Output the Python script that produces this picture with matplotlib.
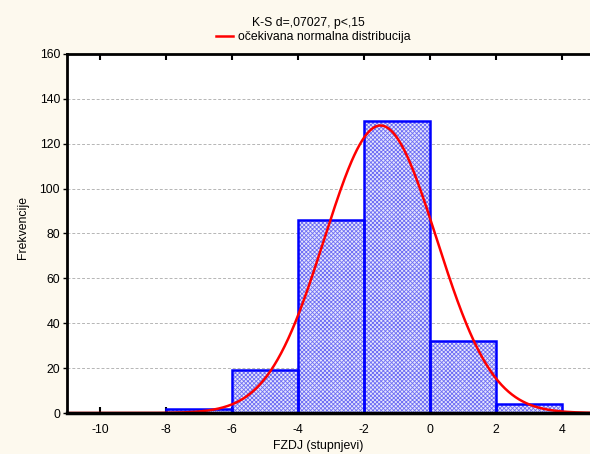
import numpy as np
import matplotlib
matplotlib.use("Agg")
import matplotlib.pyplot as plt

plt.rcParams['font.family'] = ['Liberation Sans', 'DejaVu Sans']
plt.rcParams['hatch.linewidth'] = 0.6

# Histogram of FZDJ with fitted normal curve
bin_edges = [-8, -6, -4, -2, 0, 2, 4]
counts = [2, 19, 86, 130, 32, 4]
fit_mean = -1.5
fit_sd = 1.70
n_total = sum(counts)
bin_width = 2

x_ticks = [-10, -8, -6, -4, -2, 0, 2, 4]
y_ticks = [0, 20, 40, 60, 80, 100, 120, 140, 160]

bg = '#fdf9ee'
fs = 8.8
fig = plt.figure(figsize=(5.90, 4.54), dpi=100, facecolor=bg)
ax = fig.add_axes([67/590, 1 - 413/454, 1 - 67/590, (413 - 54)/454])
ax.set_facecolor('white')

lefts = np.array(bin_edges[:-1])
# hatched fill
ax.bar(lefts, counts, width=bin_width, align='edge', facecolor='#e6e6fd',
       edgecolor='#6e6ef4', hatch='xxxxxxxx', linewidth=0, zorder=2)
# outlines
ax.bar(lefts, counts, width=bin_width, align='edge', fill=False,
       edgecolor='#0000ff', linewidth=1.8, zorder=3)

xs = np.linspace(-11, 5, 600)
pdf = np.exp(-0.5 * ((xs - fit_mean) / fit_sd) ** 2) / (fit_sd * np.sqrt(2 * np.pi))
line, = ax.plot(xs, n_total * bin_width * pdf, color='#ff0000', linewidth=1.8, zorder=4)

ax.set_xlim(-11, -11 + 523 / 33)
ax.set_ylim(0, 160)
ax.set_xticks(x_ticks)
ax.set_yticks(y_ticks)
ax.set_xticklabels([str(v) for v in x_ticks])
ax.grid(axis='y', linestyle=(0, (3, 2)), color='#b5b5b5', linewidth=0.7, zorder=0)

for s in ['left', 'bottom', 'top']:
    ax.spines[s].set_linewidth(2)
    ax.spines[s].set_zorder(5)
ax.spines['bottom'].set_linewidth(2.5)
ax.spines['right'].set_visible(False)
ax.tick_params(axis='x', direction='in', length=4, width=1.5, top=True,
               labelsize=fs, pad=8)
ax.tick_params(axis='y', direction='out', length=3, width=1, labelsize=fs, pad=2)

ax.set_xlabel('FZDJ (stupnjevi)', fontsize=fs)
ax.xaxis.set_label_coords((318 - 67) / 523, -(446 - 413) / 359)
ax.xaxis.label.set_va('center')
ax.set_ylabel('Frekvencije', fontsize=fs)
ax.yaxis.set_label_coords(-(67 - 23) / 523, (413 - 228) / 359)
ax.yaxis.label.set_va('center')

fig.text(308/590, 1 - 23/454, 'K-S d=,07027, p<,15', ha='center', va='center', fontsize=fs)
fig.legend([line], ['očekivana normalna distribucija'], loc='center left',
           bbox_to_anchor=(216/590, 1 - 37/454), frameon=False, fontsize=fs,
           handlelength=1.35, handletextpad=0.45, borderpad=0, borderaxespad=0)

fig.savefig('out.png', dpi=100, facecolor=bg)
